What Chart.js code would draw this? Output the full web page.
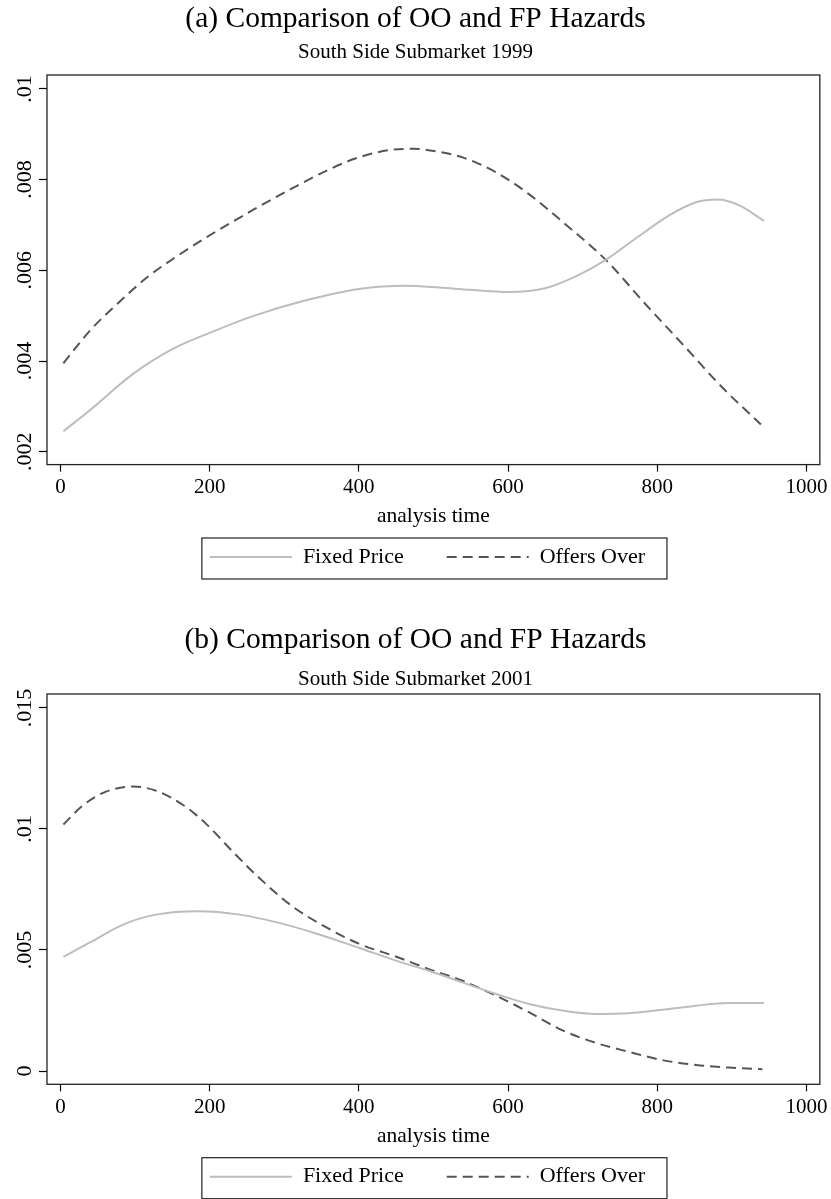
<!DOCTYPE html>
<html><head><meta charset="utf-8">
<script src="https://cdn.jsdelivr.net/npm/chart.js@4.4.1/dist/chart.umd.min.js"></script>
<style>
html,body{margin:0;padding:0;background:#fff;}
#wrap{position:relative;width:831px;height:1199px;overflow:hidden;}
.c{position:absolute;left:0;width:831px;}
</style></head><body>
<div id="wrap">
<div class="c" style="top:0;height:600px"><canvas id="ca"></canvas></div>
<div class="c" style="top:600px;height:599px"><canvas id="cb"></canvas></div>
</div>
<script>
// ---- tick values and labels ----
const xTicks = [0, 200, 400, 600, 800, 1000];
const xTickLabels = ['0', '200', '400', '600', '800', '1000'];
const yTicksA = [0.002, 0.004, 0.006, 0.008, 0.01];
const yTickLabelsA = ['.002', '.004', '.006', '.008', '.01'];
const yTicksB = [0, 0.005, 0.01, 0.015];
const yTickLabelsB = ['0', '.005', '.01', '.015'];
const seriesNames = ['Fixed Price', 'Offers Over'];
const titles = ['(a) Comparison of OO and FP Hazards', '(b) Comparison of OO and FP Hazards'];
const subtitles = ['South Side Submarket 1999', 'South Side Submarket 2001'];
const xAxisTitle = 'analysis time';

// ---- (a) 1999 ----
const fpTimeA = [4, 39, 97, 150, 200, 258, 329, 400, 463, 508, 548, 601, 651, 695, 731, 771, 816, 852, 881, 910, 943];
const fpHazardA = [0.00245, 0.00291, 0.00371, 0.00426, 0.00462, 0.00499, 0.00534, 0.00559, 0.00566, 0.00562, 0.00557, 0.00552, 0.00561, 0.0059, 0.00623, 0.0067, 0.00721, 0.0075, 0.00756, 0.00743, 0.00709];
const ooTimeA = [4, 39, 75, 115, 159, 200, 258, 311, 365, 400, 441, 472, 508, 539, 584, 628, 673, 731, 785, 838, 887, 939];
const ooHazardA = [0.00395, 0.00466, 0.00524, 0.00583, 0.00634, 0.00677, 0.00733, 0.00781, 0.00826, 0.00849, 0.00865, 0.00868, 0.00861, 0.00849, 0.00816, 0.00768, 0.00707, 0.00623, 0.00524, 0.0043, 0.00342, 0.0026];

// ---- (b) 2001 ----
const fpTimeB = [4, 39, 84, 128, 186, 240, 293, 347, 400, 454, 494, 539, 584, 628, 673, 718, 762, 807, 852, 896, 943];
const fpHazardB = [0.00471, 0.0053, 0.00605, 0.00646, 0.0066, 0.00646, 0.00612, 0.00564, 0.00509, 0.00452, 0.00414, 0.00366, 0.00318, 0.00277, 0.0025, 0.00236, 0.00239, 0.00253, 0.0027, 0.00281, 0.00281];
const ooTimeB = [4, 30, 61, 97, 128, 164, 195, 231, 267, 311, 356, 400, 454, 494, 539, 584, 628, 673, 718, 762, 807, 852, 896, 941];
const ooHazardB = [0.01018, 0.01097, 0.01154, 0.01175, 0.01158, 0.011, 0.01022, 0.00906, 0.00796, 0.0068, 0.00594, 0.00526, 0.00468, 0.00421, 0.00373, 0.00311, 0.00243, 0.00168, 0.00116, 0.00079, 0.00045, 0.00025, 0.00014, 0.00007];

const FONT = "'Liberation Serif', 'Times New Roman', serif";
const FP_COLOR = '#bdbdbd';
const OO_COLOR = '#555555';
const OO_DASH = [10, 6];

const frame = {
  id: 'frame',
  afterLayout(chart) {
    const lg = chart.legend;
    if (lg) { lg.left -= 6; lg.right -= 6; }
    chart.boxes.forEach(b => {
      if (b.position === 'top' && b !== lg && b.options && typeof b.options.text === 'string') {
        b.left += 5.2; b.right += 5.2;
      }
    });
  },
  afterDraw(chart) {
    const ctx = chart.ctx, a = chart.chartArea;
    ctx.save();
    ctx.strokeStyle = '#222';
    ctx.lineWidth = 1.3;
    ctx.setLineDash([]);
    ctx.strokeRect(a.left, a.top, a.right - a.left, a.bottom - a.top);
    const hb = chart.legend && chart.legend.legendHitBoxes;
    if (hb && hb.length) {
      const first = hb[0], last = hb[hb.length - 1];
      const cy = first.top + first.height / 2;
      const l = first.left - 8, r = last.left + last.width + 22;
      ctx.lineWidth = 1.2;
      ctx.strokeRect(l, cy - 19, r - l, 41);
    }
    ctx.restore();
  }
};

function pts(xs, ys) { return xs.map((x, i) => ({x: x, y: ys[i]})); }

function legendLabels(chart) {
  const items = Chart.defaults.plugins.legend.labels.generateLabels(chart);
  return items.map(it => {
    const ds = chart.data.datasets[it.datasetIndex];
    it.lineDash = ds.borderDash || [];
    it.strokeStyle = ds.borderColor;
    it.lineWidth = ds.borderWidth;
    it.pointStyle = 'line';
    it.fontColor = '#000';
    return it;
  });
}

function makeChart(id, cfg) {
  const xTickFont = {family: FONT, size: 21};
  const yTickFont = {family: FONT, size: 22};
  return new Chart(document.getElementById(id), {
    type: 'line',
    data: {
      datasets: [
        {label: seriesNames[0], data: pts(cfg.fpT, cfg.fpH), borderColor: FP_COLOR, backgroundColor: FP_COLOR, borderWidth: 2, pointRadius: 0, cubicInterpolationMode: 'monotone', fill: false},
        {label: seriesNames[1], data: pts(cfg.ooT, cfg.ooH), borderColor: OO_COLOR, backgroundColor: OO_COLOR, borderWidth: 2, borderDash: OO_DASH, pointRadius: 0, cubicInterpolationMode: 'monotone', fill: false}
      ]
    },
    plugins: [frame],
    options: {
      responsive: true,
      maintainAspectRatio: false,
      animation: false,
      layout: {padding: {left: 0, right: 10.3, top: 0, bottom: cfg.padBottom}},
      plugins: {
        title: {display: true, text: cfg.title, color: '#000', font: {family: FONT, size: 29.5, weight: 'normal'}, padding: {top: cfg.tTop, bottom: 0}},
        subtitle: {display: true, text: cfg.subtitle, color: '#000', font: {family: FONT, size: 21, weight: 'normal'}, padding: {top: cfg.sTop, bottom: cfg.sBottom}},
        legend: {
          position: 'bottom', fullSize: false,
          labels: {usePointStyle: true, pointStyle: 'line', pointStyleWidth: 82, padding: 43, color: '#000', font: {family: FONT, size: 22}, generateLabels: legendLabels}
        },
        tooltip: {enabled: false}
      },
      scales: {
        x: {
          type: 'linear', min: -18, max: 1018,
          afterBuildTicks: s => { s.ticks = xTicks.map(v => ({value: v})); },
          ticks: {autoSkip: false, maxRotation: 0, minRotation: 0, padding: 3.4, color: '#000', font: xTickFont,
                  callback: v => xTickLabels[xTicks.indexOf(v)]},
          grid: {drawOnChartArea: false, drawTicks: true, tickLength: 7, tickColor: '#000', tickWidth: 1.2},
          border: {display: false},
          title: {display: true, text: xAxisTitle, color: '#000', font: {family: FONT, size: 21.5}, padding: {top: 0, bottom: -26.4}}
        },
        y: {
          type: 'linear', min: cfg.yMin, max: cfg.yMax,
          afterBuildTicks: s => { s.ticks = cfg.yTicks.map(v => ({value: v})); },
          afterFit: s => { s.width = 47; },
          ticks: {autoSkip: false, minRotation: 90, maxRotation: 90, crossAlign: 'center', padding: -5.25, color: '#000', font: yTickFont,
                  callback: v => cfg.yLabels[cfg.yTicks.indexOf(v)]},
          grid: {drawOnChartArea: false, drawTicks: true, tickLength: 8, tickColor: '#000', tickWidth: 1.2},
          border: {display: false}
        }
      }
    }
  });
}

makeChart('ca', {
  title: titles[0], subtitle: subtitles[0],
  fpT: fpTimeA, fpH: fpHazardA, ooT: ooTimeA, ooH: ooHazardA,
  yMin: 0.001716, yMax: 0.010306, yTicks: yTicksA, yLabels: yTickLabelsA,
  tTop: 1.3, sTop: 2.7, sBottom: 10.4, padBottom: 22
});
makeChart('cb', {
  title: titles[1], subtitle: subtitles[1],
  fpT: fpTimeB, fpH: fpHazardB, ooT: ooTimeB, ooH: ooHazardB,
  yMin: -0.000549, yMax: 0.015574, yTicks: yTicksB, yLabels: yTickLabelsB,
  tTop: 22.3, sTop: 8.7, sBottom: 2.4, padBottom: 1.3
});
</script>
</body></html>
